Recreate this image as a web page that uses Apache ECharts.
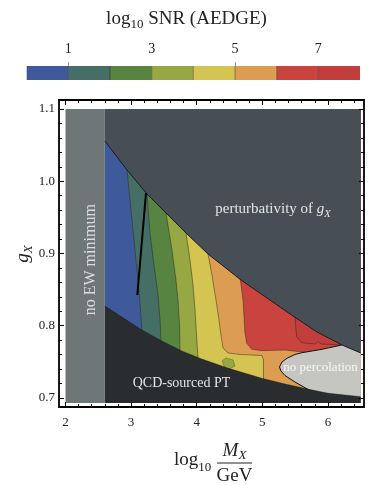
<!DOCTYPE html>
<html><head><meta charset="utf-8">
<script src="https://cdn.jsdelivr.net/npm/echarts@6/dist/echarts.min.js"></script>
<style>html,body{margin:0;padding:0;background:#fff}#c{width:374px;height:485px}</style>
</head><body><div id="c"></div>
<script>
// ---------------- data ----------------
const xTickLabels = [2, 3, 4, 5, 6];
const xMinorTicks = [2.2,2.4,2.6,2.8,3.2,3.4,3.6,3.8,4.2,4.4,4.6,4.8,5.2,5.4,5.6,5.8,6.2,6.4];
const yTickLabels = [0.7, 0.8, 0.9, 1.0, 1.1];
const yMinorTicks = [0.72,0.74,0.76,0.78,0.82,0.84,0.86,0.88,0.92,0.94,0.96,0.98,1.02,1.04,1.06,1.08];
const snrLevels = [0, 1, 2, 3, 4, 5, 6, 7, 8];
const snrTickLabels = [1, 3, 5, 7];
const snrTickMarks = [1, 5];
const bandColors = ['#3f5a9a','#456e67','#578541','#97a744','#d4c452','#dc9d53','#c9443f','#c13e3c'];

// plot region (data units)
const X0 = 2.0, X1 = 6.5, Y0 = 0.693, Y1 = 1.1, EW = 2.6;

const upperBoundary = [[2.600,1.0557],[2.938,1.0156],[3.242,0.9824],[3.532,0.9561],[3.837,0.9284],[4.172,0.8993],[4.675,0.8633],[5.468,0.8135],[5.834,0.7913],[6.215,0.7734],[6.500,0.7623]];
const lowerBoundary = [[2.600,0.8273],[3.162,0.7941],[3.466,0.7789],[3.771,0.7651],[4.076,0.7540],[4.482,0.7411],[4.991,0.7273],[5.296,0.7203],[5.701,0.7120],[6.006,0.7065],[6.500,0.7018]];

const contour1 = [[2.870,1.080],[2.938,1.0156],[2.998,0.9602],[3.059,0.9048],[3.120,0.8495],[3.166,0.7927],[3.180,0.760]];
const contour2 = [[3.215,1.010],[3.242,0.9824],[3.288,0.9284],[3.349,0.8841],[3.410,0.8426],[3.441,0.8080],[3.456,0.7789],[3.465,0.750]];
const contour3 = [[3.500,0.985],[3.532,0.9561],[3.623,0.9048],[3.684,0.8633],[3.715,0.8356],[3.738,0.8010],[3.745,0.7664],[3.750,0.740]];
const contour4 = [[3.800,0.960],[3.837,0.9284],[3.898,0.8910],[3.944,0.8564],[3.974,0.8218],[3.997,0.7872],[4.020,0.7554],[4.030,0.730]];
const contour5 = [[4.140,0.930],[4.172,0.8993],[4.233,0.8702],[4.294,0.8356],[4.340,0.8080],[4.370,0.7872],[4.401,0.7692],[4.477,0.7623],[4.660,0.7602],[4.995,0.7588],[5.018,0.7526],[5.018,0.715]];
const contour6 = [[4.645,0.8772],[4.706,0.8356],[4.736,0.7900],[4.762,0.7761],[4.838,0.7674],[4.991,0.7655],[5.346,0.7664],[5.605,0.7637],[5.880,0.7609],[6.500,0.7581]];
const contour7 = [[5.483,0.8287],[5.498,0.8149],[5.509,0.7987],[5.524,0.7848],[5.601,0.7765],[5.803,0.7747],[5.854,0.7779],[5.895,0.7747],[6.210,0.7734],[6.500,0.7720]];
const contours = [contour1, contour2, contour3, contour4, contour5, contour6, contour7];

const oliveBlob = [[4.386,0.7512],[4.447,0.7554],[4.553,0.7526],[4.584,0.7443],[4.477,0.7390],[4.416,0.7443]];
const noPercolation = [[5.262,0.7429],[5.300,0.7498],[5.376,0.7550],[5.498,0.7602],[5.605,0.7627],[5.910,0.7674],[6.215,0.7734],[6.500,0.7623],[6.500,0.6990],[6.006,0.7040],[5.713,0.7110],[5.498,0.7221],[5.346,0.7311],[5.284,0.7374]];
const blackLine = [[3.227,0.9837],[3.095,0.8426]];

// ---------------- styles ----------------
const C_PERT = '#484e56', C_QCD = '#2a2d30', C_EW = '#6f7678', C_NOPERC = '#c5c5c2';
const SERIF = '"Liberation Serif", "DejaVu Serif", serif';
const mctx = document.createElement('canvas').getContext('2d');
function fontStr(size, italic) { return (italic ? 'italic ' : '') + size + 'px ' + SERIF; }
function measure(t, size, italic) { mctx.font = fontStr(size, italic); return mctx.measureText(t).width; }
function run(segs, x, baseline, align, fill) {
  const w = segs.map(s => measure(s.t, s.size, s.italic));
  const total = w.reduce((a, b) => a + b, 0);
  let cx = align === 'center' ? x - total / 2 : x;
  return segs.map((s, i) => {
    const el = { type: 'text', z: 100, x: cx, y: baseline + (s.dy || 0) - 0.34 * s.size,
      style: { text: s.t, font: fontStr(s.size, s.italic), fill: fill, textAlign: 'left', verticalAlign: 'middle', textVerticalAlign: 'middle' } };
    cx += w[i];
    return el;
  });
}

function renderMain(params, api) {
  const P = pts => pts.map(p => api.coord(p));
  const ch = [];
  const poly = (pts, fill) => ch.push({ type: 'polygon', shape: { points: P(pts) }, style: { fill: fill, stroke: null } });
  const line = (pts, stroke, w) => ch.push({ type: 'polyline', shape: { points: P(pts) }, style: { stroke: stroke, lineWidth: w, fill: null } });
  poly([[EW, Y0], [X1, Y0], [X1, Y1], [EW, Y1]], bandColors[0]);
  contours.forEach((c, i) => {
    const f = c[0], l = c[c.length - 1];
    poly([[f[0], Y1]].concat(c, [[l[0], Y0], [X1, Y0], [X1, Y1]]), bandColors[i + 1]);
  });
  poly(oliveBlob, bandColors[3]);
  line(oliveBlob.concat([oliveBlob[0]]), 'rgba(40,40,25,0.45)', 0.7);
  contours.forEach(c => line(c, 'rgba(40,38,25,0.6)', 0.8));
  poly(noPercolation, C_NOPERC);
  line(noPercolation.slice(9).concat(noPercolation.slice(0, 7)), '#111', 1);
  poly([[EW, Y1]].concat(upperBoundary, [[X1, Y1]]), C_PERT);
  poly([[EW, Y0]].concat(lowerBoundary, [[X1, Y0]]), C_QCD);
  poly([[X0, Y0], [EW, Y0], [EW, Y1], [X0, Y1]], C_EW);
  line(upperBoundary, '#1c1c1c', 1);
  line(lowerBoundary, 'rgba(0,0,0,0.45)', 0.8);
  return { type: 'group', children: ch };
}

function renderBar(params, api) {
  const lo = api.value(0), hi = api.value(1);
  const a = api.coord([lo, 1]), b = api.coord([hi, 0]);
  const ch = [{ type: 'rect', shape: { x: a[0], y: a[1], width: b[0] - a[0], height: b[1] - a[1] }, style: { fill: bandColors[params.dataIndex] } }];
  if (params.dataIndex > 0) ch.push({ type: 'line', shape: { x1: a[0], y1: a[1], x2: a[0], y2: b[1] }, style: { stroke: 'rgba(0,0,0,0.35)', lineWidth: 1 } });
  return { type: 'group', children: ch };
}

const frameAxis = (extra) => Object.assign({
  type: 'value', gridIndex: 0, z: 5,
  axisLine: { show: true, onZero: false, lineStyle: { color: '#000', width: 1.8 } },
  splitLine: { show: false },
  axisLabel: { show: false },
  axisTick: { show: true, inside: true, length: 5, lineStyle: { color: '#000', width: 1 } }
}, extra);
const minorAxis = (extra, vals) => Object.assign({
  type: 'value', gridIndex: 0, z: 5,
  axisLine: { show: false, onZero: false },
  splitLine: { show: false },
  axisLabel: { show: false },
  axisTick: { show: true, inside: true, length: 3, customValues: vals, lineStyle: { color: '#000', width: 1 } }
}, extra);

const XMIN = 1.901, XMAX = 6.55, YMIN = 0.6875, YMAX = 1.1125;
const lblStyle = { fontFamily: SERIF, fontSize: 13, color: '#222' };

const option = {
  animation: false,
  grid: [
    { left: 59, right: 10, top: 100, bottom: 78 },
    { left: 26.7, width: 333.3, top: 66, height: 14 }
  ],
  xAxis: [
    frameAxis({ position: 'bottom', min: XMIN, max: XMAX,
      axisTick: { show: true, inside: true, length: 5, customValues: xTickLabels, lineStyle: { color: '#000', width: 1 } },
      axisLabel: Object.assign({ show: true, margin: 9, customValues: xTickLabels, formatter: v => String(Math.round(v)) }, lblStyle) }),
    frameAxis({ position: 'top', min: XMIN, max: XMAX,
      axisTick: { show: true, inside: true, length: 5, customValues: xTickLabels, lineStyle: { color: '#000', width: 1 } } }),
    minorAxis({ position: 'bottom', min: XMIN, max: XMAX }, xMinorTicks),
    minorAxis({ position: 'top', min: XMIN, max: XMAX }, xMinorTicks),
    { type: 'value', gridIndex: 1, position: 'top', min: 0, max: 8,
      axisLine: { show: false, onZero: false }, splitLine: { show: false },
      axisTick: { show: true, length: 4, customValues: snrTickMarks, lineStyle: { color: '#9a9a9a', width: 1 } },
      axisLabel: { show: true, margin: 10, customValues: snrTickLabels, fontFamily: SERIF, fontSize: 14, color: '#222' } }
  ],
  yAxis: [
    frameAxis({ position: 'left', min: YMIN, max: YMAX,
      axisTick: { show: true, inside: true, length: 5, customValues: yTickLabels, lineStyle: { color: '#000', width: 1 } },
      axisLabel: Object.assign({ show: true, margin: 4, customValues: yTickLabels, formatter: v => v.toFixed(1) }, lblStyle) }),
    frameAxis({ position: 'right', min: YMIN, max: YMAX,
      axisTick: { show: true, inside: true, length: 5, customValues: yTickLabels, lineStyle: { color: '#000', width: 1 } } }),
    minorAxis({ position: 'left', min: YMIN, max: YMAX }, yMinorTicks),
    minorAxis({ position: 'right', min: YMIN, max: YMAX }, yMinorTicks),
    { type: 'value', gridIndex: 1, min: 0, max: 1, show: false }
  ],
  series: [
    { type: 'custom', xAxisIndex: 0, yAxisIndex: 0, z: 1, renderItem: renderMain, data: [[X0, Y0]], silent: true },
    { type: 'line', xAxisIndex: 0, yAxisIndex: 0, z: 3, data: blackLine, symbol: 'none', lineStyle: { color: '#000', width: 2 }, silent: true },
    { type: 'custom', xAxisIndex: 4, yAxisIndex: 4, renderItem: renderBar, encode: { x: [0, 1] },
      data: snrLevels.slice(0, -1).map((lo, i) => [lo, snrLevels[i + 1]]), silent: true }
  ],
  graphic: { elements: [].concat(
    run([{ t: 'log', size: 19 }, { t: '10', size: 13, dy: 4 }, { t: ' SNR (AEDGE)', size: 19 }], 186.5, 25, 'center', '#222'),
    run([{ t: 'log', size: 19 }, { t: '10', size: 13, dy: 6 }], 174, 466, 'left', '#222'),
    run([{ t: 'M', size: 19, italic: true }, { t: 'X', size: 13, italic: true, dy: 3 }], 234.5, 457, 'center', '#222'),
    [{ type: 'line', z: 100, shape: { x1: 217, y1: 463, x2: 252, y2: 463 }, style: { stroke: '#222', lineWidth: 1 } }],
    run([{ t: 'GeV', size: 19 }], 234.5, 482, 'center', '#222'),
    [{ type: 'group', x: 25, y: 254, rotation: Math.PI / 2, z: 100,
       children: run([{ t: 'g', size: 19, italic: true }, { t: 'X', size: 13, italic: true, dy: 4 }], 0, 4, 'center', '#222') }],
    [{ type: 'group', x: 91, y: 259.7, rotation: Math.PI / 2, z: 100,
       children: run([{ t: 'no EW minimum', size: 16 }], 0, 5.3, 'center', '#dcdcdc') }],
    run([{ t: 'perturbativity of ', size: 15 }, { t: 'g', size: 15, italic: true }, { t: 'X', size: 10.5, italic: true, dy: 3 }], 273, 214.5, 'center', '#e4e4e4'),
    run([{ t: 'QCD-sourced PT', size: 14 }], 181.5, 388.5, 'center', '#e4e4e4'),
    run([{ t: 'no percolation', size: 13 }], 320.5, 371.5, 'center', '#f6f6f6')
  ) }
};

const chart = echarts.init(document.getElementById('c'), null, { renderer: 'canvas' });
chart.setOption(option);
</script></body></html>
